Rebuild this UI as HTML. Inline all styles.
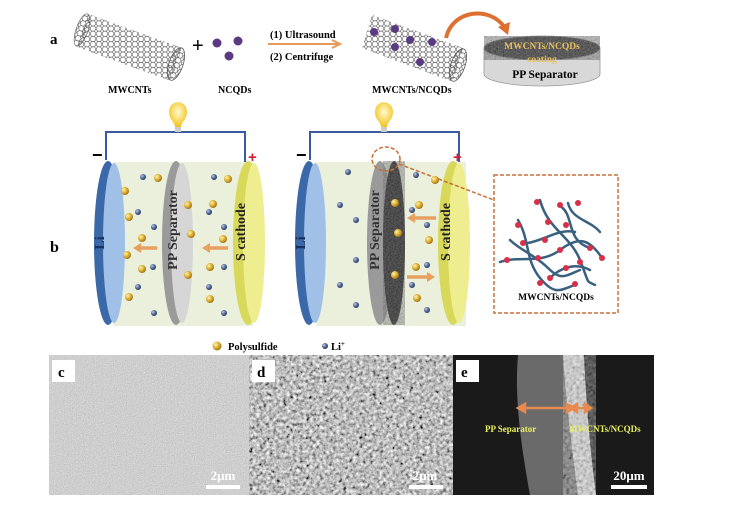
<!DOCTYPE html>
<html><head><meta charset="utf-8"><style>
html,body{margin:0;padding:0;background:#fff;}
svg{display:block;font-family:"Liberation Serif",serif;font-weight:bold;}
</style></head><body>
<svg width="729" height="505" viewBox="0 0 729 505" xmlns="http://www.w3.org/2000/svg">
<defs>
<pattern id="hex" width="6" height="5.2" patternUnits="userSpaceOnUse">
<path d="M0,2.6 L1.5,0 L4.5,0 L6,2.6 L4.5,5.2 L1.5,5.2 Z" fill="none" stroke="#555" stroke-width="0.6"/>
</pattern>
<radialGradient id="gold" cx="0.35" cy="0.35" r="0.7"><stop offset="0" stop-color="#fff6b0"/><stop offset="0.5" stop-color="#e0b23a"/><stop offset="1" stop-color="#9a7010"/></radialGradient>
<radialGradient id="blue" cx="0.35" cy="0.35" r="0.7"><stop offset="0" stop-color="#b8c8e8"/><stop offset="0.6" stop-color="#4a6090"/><stop offset="1" stop-color="#2a3858"/></radialGradient>
<radialGradient id="bulb" cx="0.5" cy="0.4" r="0.6"><stop offset="0" stop-color="#fffbd0"/><stop offset="1" stop-color="#f2c21a"/></radialGradient>
<filter id="semc" x="0" y="0" width="1" height="1"><feTurbulence type="fractalNoise" baseFrequency="0.9" numOctaves="2" seed="3"/><feColorMatrix type="matrix" values="0.2 0.2 0.2 0 0.32 0.2 0.2 0.2 0 0.32 0.2 0.2 0.2 0 0.32 0 0 0 0 1"/></filter>
<filter id="semd" x="0" y="0" width="1" height="1"><feTurbulence type="fractalNoise" baseFrequency="0.3" numOctaves="3" seed="7"/><feColorMatrix type="matrix" values="0.8 0.8 0.8 0 -0.7 0.8 0.8 0.8 0 -0.7 0.8 0.8 0.8 0 -0.7 0 0 0 0 1"/></filter>
<filter id="blk" x="0" y="0" width="1" height="1"><feTurbulence type="fractalNoise" baseFrequency="0.6" numOctaves="2" seed="2"/><feColorMatrix type="matrix" values="0.4 0 0 0 0 0.4 0 0 0 0 0.4 0 0 0 0 0 0 0 0 1"/></filter>
</defs>

<text x="50" y="44" font-size="15">a</text>
<g>
<path d="M88,14 L182,48 L171,81 L77,47 Z" fill="url(#hex)"/>
<ellipse cx="82" cy="30" rx="6" ry="17" transform="rotate(19 82 30)" fill="url(#hex)" stroke="#666" stroke-width="0.6"/>
<ellipse cx="176" cy="64" rx="7" ry="17" transform="rotate(19 176 64)" fill="url(#hex)" stroke="#555" stroke-width="0.8"/>
</g>
<text x="192" y="52" font-size="20" font-weight="normal" font-family="Liberation Sans,sans-serif">+</text>
<circle cx="217" cy="43" r="4.5" fill="#5a3a80"/><circle cx="238" cy="41" r="4.5" fill="#5a3a80"/><circle cx="229" cy="56" r="4.5" fill="#5a3a80"/>
<text x="270" y="38" font-size="10.5">(1) Ultrasound</text>
<line x1="268" y1="44" x2="338" y2="44" stroke="#e89a5a" stroke-width="2"/>
<path d="M332,40 L340,44 L332,48" fill="none" stroke="#e89a5a" stroke-width="2"/>
<text x="270" y="60" font-size="10.5">(2) Centrifuge</text>
<text x="108" y="93" font-size="10">MWCNTs</text>
<text x="218" y="93" font-size="10">NCQDs</text>
<g>
<path d="M372,15 L463,48 L453,82 L362,48 Z" fill="url(#hex)"/>
<ellipse cx="458" cy="65" rx="7" ry="17" transform="rotate(19 458 65)" fill="url(#hex)" stroke="#555" stroke-width="0.8"/>
<g fill="#5a3a80"><circle cx="374" cy="32" r="4"/><circle cx="395" cy="29" r="4"/><circle cx="410" cy="40" r="4"/><circle cx="432" cy="42" r="4"/><circle cx="395" cy="47" r="4"/><circle cx="420" cy="62" r="4"/></g>
</g>
<text x="372" y="93" font-size="10">MWCNTs/NCQDs</text>
<path d="M446,38 C452,10 490,5 505,28" fill="none" stroke="#dd7030" stroke-width="4"/>
<path d="M498,27 L508,35 L510,22 Z" fill="#dd7030"/>
<path d="M484,48 L484,74 A58,12 0 0 0 600,74 L600,48 Z" fill="#d8d8d8" stroke="#999" stroke-width="0.8"/>
<ellipse cx="542" cy="48" rx="58" ry="12" fill="#2a2a2a" stroke="#888" stroke-width="0.8"/>
<ellipse cx="542" cy="48" rx="58" ry="12" fill="#333" filter="url(#blk)" opacity="0.6"/>
<text x="542" y="49" font-size="9.5" fill="#e8c060" text-anchor="middle">MWCNTs/NCQDs</text>
<text x="542" y="62" font-size="9.5" fill="#e8c060" text-anchor="middle">coating</text>
<text x="545" y="78" font-size="11.5" text-anchor="middle">PP  Separator</text>

<text x="50" y="252" font-size="16">b</text>
<polyline points="106,160 106,132 245,132 245,162" fill="none" stroke="#3a5aa0" stroke-width="2"/>
<path d="M169,112 C169,99 187,99 187,112 C187,120 181,122 181,127 L175,127 C175,122 169,120 169,112 Z" fill="url(#bulb)"/>
<rect x="175" y="127" width="6" height="5" fill="#ccc"/>
<text x="92" y="161" font-size="18" font-family="Liberation Sans,sans-serif">−</text>
<text x="248" y="162" font-size="15" fill="#d02030" font-family="Liberation Sans,sans-serif">+</text>
<rect x="113" y="162" width="140" height="164" fill="#eaf0dc"/>
<ellipse cx="108" cy="243" rx="14" ry="82" fill="#3a68a8"/>
<ellipse cx="114" cy="243" rx="11" ry="80" fill="#a0c0e8"/>
<ellipse cx="176" cy="243" rx="14" ry="82" fill="#9a9a9a"/>
<ellipse cx="182" cy="243" rx="11" ry="80" fill="#d6d6d6"/>
<ellipse cx="248" cy="243" rx="15" ry="82" fill="#d8d85a"/>
<ellipse cx="254" cy="243" rx="11" ry="80" fill="#eeee90"/>
<text transform="translate(104,243) rotate(-90)" font-size="14" fill="#1a3060" text-anchor="middle">Li</text>
<text transform="translate(177,230) rotate(-90)" font-size="14" fill="#333" text-anchor="middle">PP  Separator</text>
<text transform="translate(245,232) rotate(-90)" font-size="14" fill="#222" text-anchor="middle">S  cathode</text>
<polyline points="310,160 310,132 459,132 459,162" fill="none" stroke="#3a5aa0" stroke-width="2"/>
<path d="M375,112 C375,99 393,99 393,112 C393,120 387,122 387,127 L381,127 C381,122 375,120 375,112 Z" fill="url(#bulb)"/>
<rect x="381" y="127" width="6" height="5" fill="#ccc"/>
<text x="296" y="161" font-size="18" font-family="Liberation Sans,sans-serif">−</text>
<text x="453" y="162" font-size="15" fill="#d02030" font-family="Liberation Sans,sans-serif">+</text>
<rect x="316" y="162" width="150" height="164" fill="#eaf0dc"/>
<ellipse cx="309" cy="243" rx="14" ry="82" fill="#3a68a8"/>
<ellipse cx="315" cy="243" rx="11" ry="80" fill="#a0c0e8"/>
<ellipse cx="380" cy="243" rx="13" ry="82" fill="#9a9a9a"/>
<ellipse cx="394" cy="243" rx="11" ry="82" fill="#1e1e1e"/>
<ellipse cx="394" cy="243" rx="11" ry="82" fill="#333" filter="url(#blk)" opacity="0.5"/>
<ellipse cx="453" cy="243" rx="15" ry="82" fill="#d8d85a"/>
<ellipse cx="459" cy="243" rx="11" ry="80" fill="#eeee90"/>
<text transform="translate(305,243) rotate(-90)" font-size="14" fill="#1a3060" text-anchor="middle">Li</text>
<text transform="translate(379,230) rotate(-90)" font-size="14" fill="#333" text-anchor="middle">PP  Separator</text>
<text transform="translate(450,232) rotate(-90)" font-size="14" fill="#222" text-anchor="middle">S  cathode</text>
<ellipse cx="386" cy="159" rx="14" ry="12" fill="none" stroke="#c8703a" stroke-width="1.5" stroke-dasharray="4,2"/>
<line x1="399" y1="164" x2="494" y2="200" stroke="#c8703a" stroke-width="1.5" stroke-dasharray="4,2"/>
<rect x="494" y="175" width="124" height="138" fill="#fff" stroke="#c8703a" stroke-width="1.5" stroke-dasharray="4,2"/>
<g fill="none" stroke="#3a6080" stroke-width="2.5" stroke-linecap="round">
<path d="M500,262 C520,255 540,265 560,250 S590,240 602,258"/>
<path d="M518,220 C530,240 525,260 540,278 S560,290 575,285"/>
<path d="M540,200 C548,230 570,235 580,260 S585,280 595,285"/>
<path d="M560,206 C575,215 565,240 590,248"/>
<path d="M528,243 C545,240 560,228 575,232"/>
<path d="M510,240 C520,250 535,255 548,268 S565,276 580,270"/>
<path d="M550,278 C560,268 575,262 590,270"/>
<path d="M568,203 C572,220 590,220 600,232"/>
</g>
<g fill="#d83048">
<circle cx="537" cy="202" r="3"/><circle cx="560" cy="205" r="3"/><circle cx="578" cy="203" r="3"/><circle cx="548" cy="222" r="3"/><circle cx="566" cy="225" r="3"/><circle cx="518" cy="225" r="3"/><circle cx="545" cy="240" r="3"/><circle cx="523" cy="243" r="3"/><circle cx="590" cy="248" r="3"/><circle cx="507" cy="260" r="3"/><circle cx="538" cy="258" r="3"/><circle cx="560" cy="250" r="3"/><circle cx="580" cy="262" r="3"/><circle cx="602" cy="258" r="3"/><circle cx="550" cy="278" r="3"/><circle cx="566" cy="268" r="3"/><circle cx="575" cy="284" r="3"/><circle cx="540" cy="283" r="3"/>
</g>
<text x="556" y="300" font-size="9.5" text-anchor="middle">MWCNTs/NCQDs</text>
<g stroke="#e8a060" stroke-width="3.5" fill="#e8a060">
<line x1="157" y1="248" x2="140" y2="248"/><path d="M141,243 L133,248 L141,253 Z" stroke="none"/>
<line x1="228" y1="248" x2="209" y2="248"/><path d="M210,243 L202,248 L210,253 Z" stroke="none"/>
<line x1="436" y1="218" x2="414" y2="218"/><path d="M415,213 L407,218 L415,223 Z" stroke="none"/>
<line x1="407" y1="277" x2="428" y2="277"/><path d="M427,272 L435,277 L427,282 Z" stroke="none"/>
</g>
<g fill="url(#gold)">
<circle cx="158" cy="178" r="4"/><circle cx="125" cy="191" r="4"/><circle cx="129" cy="217" r="4"/><circle cx="142" cy="238" r="4"/><circle cx="127" cy="255" r="4"/><circle cx="142" cy="269" r="4"/><circle cx="129" cy="297" r="4"/><circle cx="188" cy="205" r="4"/><circle cx="191" cy="234" r="4"/><circle cx="188" cy="275" r="4"/><circle cx="228" cy="179" r="4"/><circle cx="213" cy="204" r="4"/><circle cx="223" cy="239" r="4"/><circle cx="210" cy="267" r="4"/><circle cx="210" cy="299" r="4"/>
<circle cx="395" cy="203" r="4"/><circle cx="398" cy="233" r="4"/><circle cx="395" cy="275" r="4"/><circle cx="435" cy="180" r="4"/><circle cx="419" cy="205" r="4"/><circle cx="429" cy="240" r="4"/><circle cx="416" cy="267" r="4"/><circle cx="417" cy="298" r="4"/>
</g>
<g fill="url(#blue)">
<circle cx="143" cy="177" r="3"/><circle cx="138" cy="212" r="3"/><circle cx="154" cy="227" r="3"/><circle cx="153" cy="267" r="3"/><circle cx="138" cy="287" r="3"/><circle cx="154" cy="313" r="3"/><circle cx="214" cy="177" r="3"/><circle cx="209" cy="212" r="3"/><circle cx="224" cy="227" r="3"/><circle cx="224" cy="267" r="3"/><circle cx="209" cy="287" r="3"/><circle cx="224" cy="313" r="3"/>
<circle cx="348" cy="172" r="3"/><circle cx="340" cy="205" r="3"/><circle cx="356" cy="220" r="3"/><circle cx="356" cy="260" r="3"/><circle cx="340" cy="285" r="3"/><circle cx="356" cy="305" r="3"/><circle cx="416" cy="175" r="3"/><circle cx="412" cy="210" r="3"/><circle cx="427" cy="225" r="3"/><circle cx="427" cy="265" r="3"/><circle cx="412" cy="285" r="3"/><circle cx="427" cy="310" r="3"/>
</g>
<circle cx="217" cy="346" r="4.5" fill="url(#gold)"/>
<text x="228" y="350" font-size="10.5">Polysulfide</text>
<circle cx="325" cy="346" r="3" fill="url(#blue)"/>
<text x="331" y="350" font-size="10.5">Li<tspan font-size="7" dy="-4">+</tspan></text>

<rect x="49" y="355" width="200" height="140" fill="#888" filter="url(#semc)"/>
<rect x="249" y="355" width="204" height="140" fill="#888" filter="url(#semd)"/>
<rect x="453" y="355" width="201" height="140" fill="#1a1a1a"/>
<path d="M518,355 L566,355 C568,400 572,450 578,495 L530,495 C522,450 514,400 518,355 Z" fill="#6a6a6a"/>
<path d="M563,355 L584,355 C586,400 590,450 596,495 L578,495 C572,450 566,400 563,355 Z" fill="#d0d0d0"/>
<path d="M563,355 L584,355 C586,400 590,450 596,495 L578,495 C572,450 566,400 563,355 Z" fill="#888" filter="url(#semd)" opacity="0.4"/>
<rect x="52" y="360" width="23" height="22" fill="#fff"/><text x="58" y="377" font-size="15">c</text>
<rect x="252" y="360" width="23" height="22" fill="#fff"/><text x="257" y="377" font-size="15">d</text>
<rect x="456" y="360" width="23" height="22" fill="#fff"/><text x="461" y="377" font-size="15">e</text>
<text x="223" y="480" font-size="13" fill="#fff" text-anchor="middle">2μm</text>
<rect x="206" y="485" width="34" height="4" fill="#fff"/>
<text x="425" y="480" font-size="13" fill="#fff" text-anchor="middle">2μm</text>
<rect x="409" y="485" width="34" height="4" fill="#fff"/>
<text x="629" y="480" font-size="13" fill="#fff" text-anchor="middle">20μm</text>
<rect x="611" y="485" width="36" height="4" fill="#fff"/>
<g stroke="#e88a50" stroke-width="2.5" fill="#e88a50">
<line x1="524" y1="408" x2="568" y2="408"/><path d="M525,404 L518,408 L525,412 Z"/><path d="M567,404 L574,408 L567,412 Z"/>
<line x1="576" y1="408" x2="586" y2="408"/><path d="M577,404 L571,408 L577,412 Z"/><path d="M585,404 L591,408 L585,412 Z"/>
</g>
<text x="485" y="432" font-size="9" fill="#e8f060">PP  Separator</text>
<text x="569" y="432" font-size="9" fill="#e8f060">MWCNTs/NCQDs</text>
</svg>
</body></html>
